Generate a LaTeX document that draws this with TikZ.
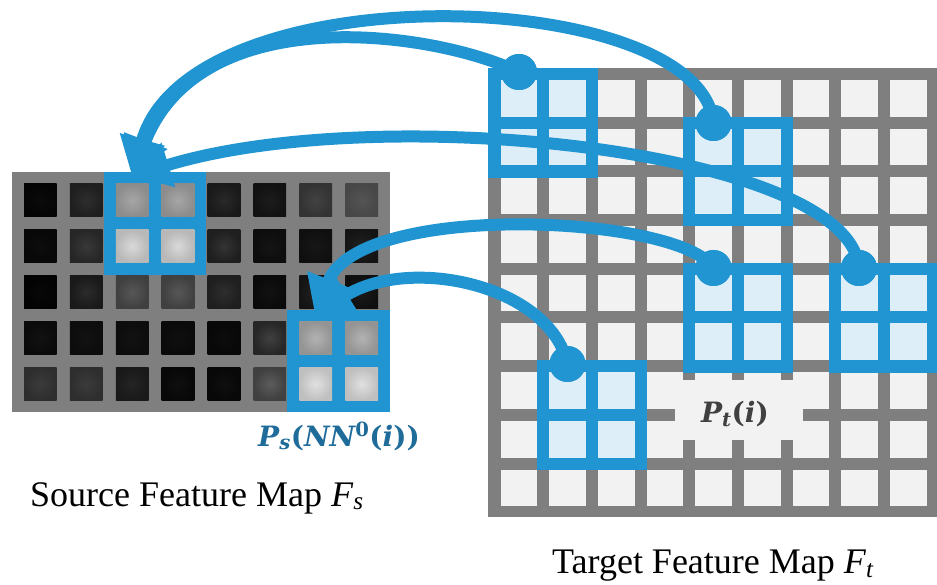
\documentclass[tikz,border=0pt]{standalone}
\usepackage{fontspec}
\setmainfont{Liberation Serif}
\newfontfamily\labelfont{DejaVu Serif}
\usetikzlibrary{arrows.meta}
\definecolor{patchblue}{HTML}{2095D1}
\definecolor{celllight}{HTML}{F2F2F2}
\definecolor{cellblue}{HTML}{DDEEF8}
\definecolor{gridgrey}{HTML}{7F7F7F}
\definecolor{labelblue}{HTML}{1F6B99}
\definecolor{labelgrey}{HTML}{404040}
\begin{document}
\begin{tikzpicture}[x=1pt,y=-1pt,
  link/.style={draw=patchblue,line width=12pt,-{Triangle[length=38pt,width=44pt]}},
  dot/.style={circle,fill=patchblue,minimum size=36pt,inner sep=0pt},
  caption/.style={anchor=base west,inner sep=0pt,font=\fontsize{36}{40}\selectfont},
  patchlabel/.style={anchor=base,inner sep=0pt,font={\labelfont\bfseries\itshape\fontsize{28}{32}\selectfont}}]
\useasboundingbox (0,0) rectangle (937,585);

% ---------- source feature map (8 x 5) ----------
\fill[gridgrey] (11.7,171.7) rectangle (390,412);
\foreach \i/\j/\a/\b in {
  0/0/96/98, 1/0/82/88, 2/0/35/45, 3/0/35/45, 4/0/84/90, 5/0/89/93, 6/0/74/80, 7/0/67/72,
  0/1/95/97, 1/1/78/85, 2/1/15/28, 3/1/15/28, 4/1/80/88, 5/1/92/95, 6/1/91/94, 7/1/87/92,
  0/2/97/99, 1/2/83/90, 2/2/66/75, 3/2/66/75, 4/2/82/88, 5/2/93/96, 6/2/87/92, 7/2/90/94,
  0/3/93/96, 1/3/93/95, 2/3/93/95, 3/3/94/96, 4/3/95/97, 5/3/75/85, 6/3/30/42, 7/3/30/42,
  0/4/77/82, 1/4/77/82, 2/4/86/90, 3/4/94/97, 4/4/94/97, 5/4/64/75, 6/4/12/25, 7/4/12/25}
  \shade[inner color=black!\a, outer color=black!\b]
    ({24+45.9*\i},{184+45.9*\j}) rectangle +(32.7,32.7);

% source patches
\fill[patchblue] (103.8,172) rectangle (206.4,274.6);
\fill[patchblue] (287.3,309.8) rectangle (390,412.4);
\foreach \i/\j/\a/\b in {2/0/35/45, 3/0/35/45, 2/1/15/28, 3/1/15/28,
                         6/3/30/42, 7/3/30/42, 6/4/12/25, 7/4/12/25}
  \shade[inner color=black!\a, outer color=black!\b]
    ({24+45.9*\i},{184+45.9*\j}) rectangle +(32.7,32.7);

% ---------- target feature map (9 x 9) ----------
\fill[gridgrey] (488,68) rectangle (937,517);
\foreach \i in {0,...,8}
  \foreach \j in {0,...,8}
    \fill[celllight] ({500.5+48.7*\i},{80+48.7*\j}) rectangle +(36.6,36.6);

% target patches: upper-left cell (column, row)
\foreach \i/\j in {0/0, 4/1, 4/4, 7/4, 1/6}{
  \fill[patchblue] ({500.5+48.7*\i-12.1},{80+48.7*\j-12.1}) rectangle +(109.9,109.9);
  \foreach \di in {0,1}
    \foreach \dj in {0,1}
      \fill[cellblue] ({500.5+48.7*(\i+\di)},{80+48.7*(\j+\dj)}) rectangle +(36.6,36.6);
}

% label field inside the target map
\fill[celllight] (675,380) rectangle (803,440);
\node[patchlabel,text=labelgrey] (ptlabel) at (735,422)
  {P\textsubscript{t}\textup{(}i\textup{)}};

% ---------- connectors ----------
\node[dot] (d1) at (519,72) {};
\node[dot] (d2) at (713.5,123) {};
\node[dot] (d3) at (713.5,268) {};
\node[dot] (d4) at (859,268) {};
\node[dot] (d5) at (567.5,364) {};
\coordinate (s1) at (132,176);
\coordinate (s2) at (315,315);

\draw[link] (d2.center) .. controls (700,-15) and (190,-30) .. (s1);
\draw[link] (d1.center) .. controls (430,30) and (200,0) .. (s1);
\draw[link] (d4.center) .. controls (850,150) and (380,100) .. (s1);
\draw[link] (d3.center) .. controls (680,215) and (360,200) .. (s2);
\draw[link] (d5.center) .. controls (550,285) and (410,255) .. (s2);

\foreach \d in {d1,d2,d3,d4,d5}
  \fill[patchblue] (\d) circle (18);

% ---------- labels ----------
\node[patchlabel,text=labelblue] (pslabel) at (339,446)
  {P\textsubscript{s}\textup{(}NN\textsuperscript{\textup{0}}\textup{(}i\textup{))}};
\node[caption] (srclabel) at (30,506)
  {Source Feature Map \textit{F}\textsubscript{\textit{s}}};
\node[caption] (tgtlabel) at (552,573)
  {Target Feature Map \textit{F}\raisebox{-0.12em}{\fontsize{25}{25}\selectfont\textit{t}}};
\end{tikzpicture}
\end{document}
